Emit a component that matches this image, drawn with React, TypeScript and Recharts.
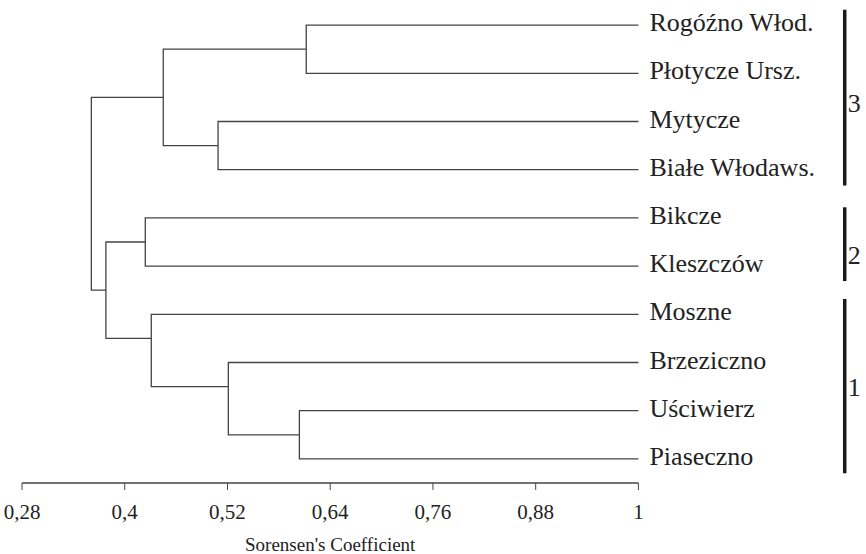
import { ComposedChart, Line, Scatter, XAxis, YAxis } from 'recharts'

// leaves top to bottom
const leaves = [
  'Rogóźno Włod.', 'Płotycze Ursz.', 'Mytycze', 'Białe Włodaws.', 'Bikcze',
  'Kleszczów', 'Moszne', 'Brzeziczno', 'Uściwierz', 'Piaseczno',
]
// merges, L = leaf index, N = earlier merge index
const mergePairs = [
  ['L0', 'L1'], ['L2', 'L3'], ['N0', 'N1'], ['L4', 'L5'], ['L8', 'L9'],
  ['L7', 'N4'], ['L6', 'N5'], ['N3', 'N6'], ['N2', 'N7'],
]
const mergeCoef = [0.612, 0.509, 0.445, 0.424, 0.604, 0.521, 0.431, 0.378, 0.361]
const mergeRow = [0.5, 2.5, 1.5, 4.5, 8.5, 7.5, 6.5, 5.5, 3.5]

const xTicks = [0.28, 0.4, 0.52, 0.64, 0.76, 0.88, 1]

const groupNames = ['3', '2', '1']
const groupSpan = [[-0.32, 3.33], [3.78, 5.31], [5.68, 9.3]]
const groupLabelRow = [1.61, 4.77, 7.51]
const bracketCoef = 1.241

const X_MIN = 0.28
const X_MAX = 1.26
const FONT = '"Liberation Serif", "Times New Roman", serif'
const INK = '#222'
const LINE = '#444'

const pos = (ref: string) => {
  const i = Number(ref.slice(1))
  return ref[0] === 'L' ? { x: 1, y: i } : { x: mergeCoef[i], y: mergeRow[i] }
}

const branches = mergePairs.map(([a, b], i) => {
  const top = pos(a)
  const bot = pos(b)
  return [
    { x: top.x, y: top.y },
    { x: mergeCoef[i], y: top.y },
    { x: mergeCoef[i], y: bot.y },
    { x: bot.x, y: bot.y },
  ]
})

const leafPoints = leaves.map((name, i) => ({ x: 1, y: i, name }))
const groupPoints = groupNames.map((name, i) => ({ x: bracketCoef, y: groupLabelRow[i], name }))
const axisLine = [{ x: X_MIN, y: 9.5 }, { x: 1, y: 9.5 }]

const LeafLabel = (p: any) => (
  <text x={p.cx + 11} y={p.cy + 6} fontSize={26} fontFamily={FONT} fill={INK}>
    {p.payload.name}
  </text>
)

const GroupLabel = (p: any) => (
  <text x={p.cx + 3} y={p.cy + 9} fontSize={26} fontFamily={FONT} fill={INK}>
    {p.payload.name}
  </text>
)

const AxisTitle = (props: any) => {
  const { x, y, width, height } = props.viewBox
  const cx = x + ((0.64 - X_MIN) / (X_MAX - X_MIN)) * width
  return (
    <text x={cx} y={y + height - 3} textAnchor="middle" fontSize={19} fontFamily={FONT} fill={INK}>
      Sorensen's Coefficient
    </text>
  )
}

export default function App() {
  return (
    <div style={{ position: 'absolute', left: 0, top: 0, background: '#fff' }}>
      <ComposedChart width={866} height={554} margin={{ top: 1, right: 5, bottom: 0, left: 22 }}>
        <XAxis
          type="number"
          dataKey="x"
          domain={[X_MIN, X_MAX]}
          ticks={xTicks}
          tickFormatter={(v: number) => String(v).replace('.', ',')}
          axisLine={false}
          tickLine={{ stroke: LINE }}
          tickSize={7}
          tickMargin={14}
          height={71}
          tick={{ fontSize: 21, fontFamily: FONT, fill: INK }}
          label={<AxisTitle />}
        />
        <YAxis type="number" dataKey="y" domain={[-0.5, 9.5]} reversed hide />
        <Line data={axisLine} dataKey="y" stroke={LINE} strokeWidth={1.3} dot={false} isAnimationActive={false} />
        {branches.map((d, i) => (
          <Line
            key={'b' + i}
            data={d}
            dataKey="y"
            type="linear"
            stroke={LINE}
            strokeWidth={1.3}
            dot={false}
            isAnimationActive={false}
          />
        ))}
        {groupSpan.map((s, i) => (
          <Line
            key={'g' + i}
            data={[{ x: bracketCoef, y: s[0] }, { x: bracketCoef, y: s[1] }]}
            dataKey="y"
            stroke="#1a1a1a"
            strokeWidth={3.5}
            dot={false}
            isAnimationActive={false}
          />
        ))}
        <Scatter data={leafPoints} dataKey="y" shape={LeafLabel} isAnimationActive={false} />
        <Scatter data={groupPoints} dataKey="y" shape={GroupLabel} isAnimationActive={false} />
      </ComposedChart>
    </div>
  )
}
